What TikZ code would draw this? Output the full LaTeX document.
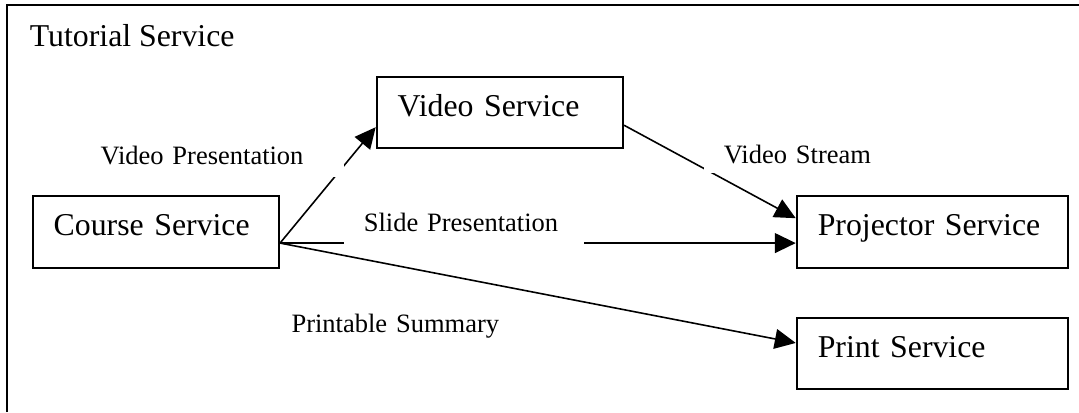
\documentclass[tikz,border=0pt]{standalone}
\usepackage{fontspec}
\setmainfont{Liberation Serif}
\usetikzlibrary{positioning,arrows.meta}

\begin{document}
\begin{tikzpicture}[node distance=0.64cm,
  svc/.style={draw, rectangle, line width=0.7pt, anchor=north west, align=left, font=\fontsize{12}{14}\selectfont, inner xsep=0.28cm, inner ysep=0pt, text height=0.53cm, text depth=0.42cm, text width=#1},
  lbl/.style={fill=white, anchor=base west, align=left, font=\fontsize{10}{12}\selectfont, inner xsep=0.265cm, inner ysep=0pt, text width=#1},
  flow/.style={-{Triangle[length=7.9pt,width=7.5pt]}, line width=0.6pt}]
\useasboundingbox (0,0) rectangle (14.312,-5.465);
\draw[line width=0.75pt] (0.0955,-5.465) |- (14.312,-0.069);

\node (title) [anchor=base west, inner sep=0pt, font=\fontsize{12}{14}\selectfont] at (0.39,-0.617) {Tutorial Service};
\node (course) [svc=2.71cm] at (0.42,-2.587) {Course Service};
\node (video) [svc=2.71cm] at (4.983,-1.004) {Video Service};
\node (projector) [svc=3.04cm, right=6.84cm of course] {Projector Service};
\node (print) [svc=3.04cm, below=of projector] {Print Service};

\draw[flow] ([yshift=-0.15cm]course.east) -- ([yshift=-0.196cm]video.west);
\draw[flow] ([yshift=-0.17cm]video.east) -- ([yshift=0.18cm]projector.west);
\draw[flow] ([yshift=-0.15cm]course.east) -- ([yshift=-0.15cm]projector.west);
\draw[flow] ([yshift=-0.15cm]course.east) -- ([yshift=0.14cm]print.west);

\node (vidpres) [lbl=2.96cm, text depth=0.164cm] at (1.061,-2.183) {Video Presentation};
\node (slides) [lbl=2.66cm, text depth=0.216cm] at (4.554,-3.073) {Slide Presentation};
\node (stream) [lbl=2.26cm, text depth=0.129cm] at (9.33,-2.17) {Video Stream};
\node (summary) [lbl=2.92cm, text depth=0.16cm] at (3.595,-4.412) {Printable Summary};
\end{tikzpicture}
\end{document}
